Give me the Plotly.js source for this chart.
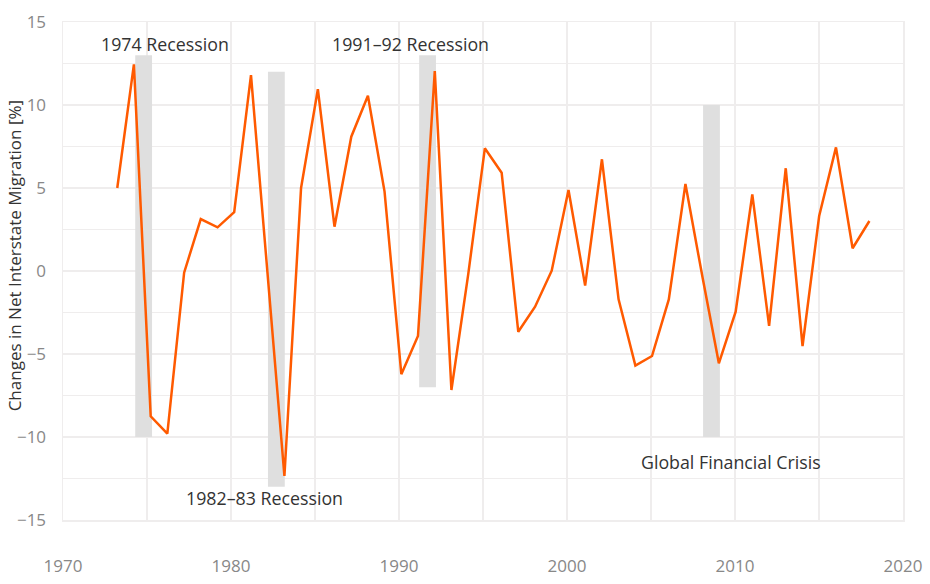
<!DOCTYPE html>
<html>
<head>
<meta charset="utf-8">
<script src="https://cdn.plot.ly/plotly-3.0.1.min.js"></script>
<style>html,body{margin:0;padding:0;background:#fff;}#chart{width:930px;height:584px;}</style>
</head>
<body>
<div id="chart"></div>
<script>
// Year positions (as plotted) and changes in net interstate migration [%]
const years = [1973.23,1974.22,1975.22,1976.21,1977.21,1978.20,1979.20,1980.19,1981.19,1982.18,
  1983.18,1984.17,1985.17,1986.16,1987.16,1988.15,1989.14,1990.14,1991.13,1992.13,
  1993.12,1994.12,1995.11,1996.11,1997.10,1998.10,1999.09,2000.09,2001.08,2002.08,
  2003.07,2004.07,2005.06,2006.06,2007.05,2008.05,2009.04,2010.04,2011.03,2012.03,
  2013.02,2014.02,2015.01,2016.01,2017.00,2018.00];
const changes = [5.0,12.45,-8.75,-9.8,-0.1,3.13,2.63,3.54,11.8,0.0,
  -12.35,5.0,10.95,2.67,8.09,10.56,4.78,-6.22,-3.92,12.05,
  -7.17,-0.2,7.39,5.92,-3.66,-2.15,0.02,4.88,-0.88,6.73,
  -1.71,-5.7,-5.12,-1.71,5.24,-0.29,-5.56,-2.45,4.62,-3.31,
  6.19,-4.52,3.31,7.45,1.37,3.01];

// Recession shading
const recStart  = [1974.3, 1982.2, 1991.2, 2008.1];
const recEnd    = [1975.3, 1983.2, 1992.2, 2009.1];
const recTop    = [13, 12, 13, 10];
const recBottom = [-10, -13, -7, -10];

// Labels
const labelText = ["1974 Recession", "1982\u201383 Recession", "1991\u201392 Recession", "Global Financial Crisis"];
const labelX = [1976.1, 1982.0, 1990.7, 2009.76];
const labelY = [13.65, -13.7, 13.65, -11.5];

const yTitle = "Changes in Net Interstate Migration [%]";

const xTickVals = [1970, 1980, 1990, 2000, 2010, 2020];
const yTickVals = [-15, -10, -5, 0, 5, 10, 15];
const yTickText = ["\u221215", "\u221210", "\u22125", "0", "5", "10", "15"];

const FONT = "'Open Sans', Lato, sans-serif";
const GRID = "#efeded";

const shapes = recStart.map((s, i) => ({
  type: "rect", xref: "x", yref: "y", layer: "between",
  x0: s, x1: recEnd[i], y0: recBottom[i], y1: recTop[i],
  fillcolor: "#dfdfdf", line: {width: 0}
}));

const annotations = labelText.map((t, i) => ({
  x: labelX[i], y: labelY[i], xref: "x", yref: "y", text: t,
  showarrow: false, font: {family: FONT, size: 17.8, color: "#333"}
}));
// y-axis title (placed slightly above the plot centre, as in the original)
annotations.push({
  xref: "paper", yref: "paper", x: -0.058, y: 0.53, xanchor: "center", yanchor: "middle",
  text: yTitle, textangle: -90, showarrow: false,
  font: {family: FONT, size: 17, color: "#333"}
});

Plotly.newPlot("chart", [{
  x: years, y: changes, type: "scatter", mode: "lines",
  line: {color: "#ff5a00", width: 2.5}, hoverinfo: "skip"
}], {
  width: 930, height: 584,
  margin: {l: 63, r: 27, t: 22, b: 64},
  paper_bgcolor: "#fff", plot_bgcolor: "#fff",
  showlegend: false,
  font: {family: FONT, size: 16, color: "#888"},
  xaxis: {
    range: [1970, 2020], tickmode: "array", tickvals: xTickVals,
    showgrid: true, gridcolor: GRID, gridwidth: 1.5,
    minor: {dtick: 5, tick0: 1970, showgrid: true, gridcolor: GRID, gridwidth: 1.5},
    zeroline: false, showline: true, linecolor: GRID, linewidth: 1.5, mirror: true,
    ticks: "", ticklabelstandoff: 30,
    tickfont: {family: FONT, size: 17, color: "#888"}
  },
  yaxis: {
    range: [-15, 15], tickmode: "array", tickvals: yTickVals, ticktext: yTickText,
    showgrid: true, gridcolor: GRID, gridwidth: 1.5,
    minor: {dtick: 2.5, tick0: 0, showgrid: true, gridcolor: GRID, gridwidth: 1.5},
    zeroline: false, showline: true, linecolor: GRID, linewidth: 1.5, mirror: true,
    ticks: "", ticklabelstandoff: 12,
    tickfont: {family: FONT, size: 17, color: "#888"}
  },
  shapes: shapes,
  annotations: annotations
}, {staticPlot: true});
</script>
</body>
</html>
